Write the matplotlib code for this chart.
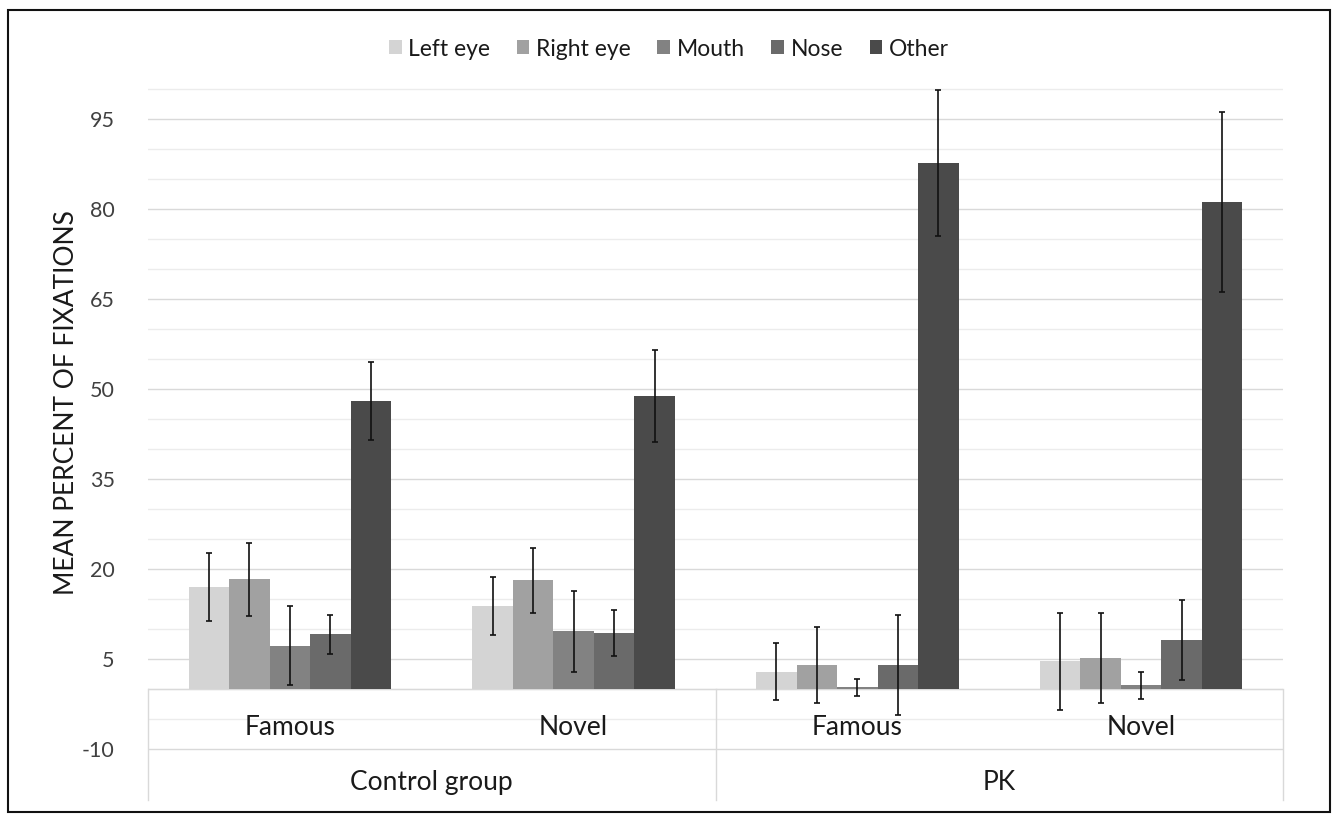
import matplotlib
matplotlib.use("Agg")
import matplotlib.pyplot as plt
from matplotlib.patches import Rectangle
import numpy as np

plt.rcParams['font.family'] = ['Lato', 'DejaVu Sans']
plt.rcParams['axes.unicode_minus'] = False

categories = ["Famous", "Novel", "Famous", "Novel"]
groups = ["Control group", "PK"]
series = ["Left eye", "Right eye", "Mouth", "Nose", "Other"]
colors = ["#d4d4d4", "#a1a1a1", "#828282", "#6a6a6a", "#4a4a4a"]

left_eye  = [17.0, 13.8, 2.9, 4.6]
right_eye = [18.3, 18.1, 4.0, 5.1]
mouth     = [7.2, 9.6, 0.3, 0.6]
nose      = [9.1, 9.3, 4.0, 8.2]
other     = [48.0, 48.9, 87.7, 81.2]

left_eye_err  = [5.7, 4.8, 4.8, 8.1]
right_eye_err = [6.1, 5.4, 6.3, 7.5]
mouth_err     = [6.6, 6.7, 1.4, 2.2]
nose_err      = [3.2, 3.8, 8.3, 6.7]
other_err     = [6.5, 7.7, 12.2, 15.0]

yticks = [-10, 5, 20, 35, 50, 65, 80, 95]

values = [left_eye, right_eye, mouth, nose, other]
errors = [left_eye_err, right_eye_err, mouth_err, nose_err, other_err]

W, H = 1333, 818
fig = plt.figure(figsize=(W / 100, H / 100), dpi=100)

ax_left, ax_right = 148 / W, 1283 / W
y_top_px, y_bot_px = 86.3, 800
ax = fig.add_axes([ax_left, (H - y_bot_px) / H, ax_right - ax_left, (y_bot_px - y_top_px) / H])

n = len(categories)
x = np.arange(n)
bw = 0.1427
for i, (vals, errs, c, name) in enumerate(zip(values, errors, colors, series)):
    pos = x + (i - 2) * bw
    ax.bar(pos, vals, width=bw, color=c, label=name, zorder=2, linewidth=0)
    ax.errorbar(pos, vals, yerr=errs, fmt='none', ecolor='#111111', elinewidth=1.2,
                capsize=2.2, capthick=1.2, zorder=3)

ax.set_xlim(-0.5, n - 0.5)
ax.set_ylim(-18.5, 100.5)
ax.set_yticks(yticks)
ax.set_yticks(np.arange(-10, 101, 5), minor=True)
ax.yaxis.grid(True, which='major', color='#d9d9d9', linewidth=1.0, zorder=0)
ax.yaxis.grid(True, which='minor', color='#ececec', linewidth=1.0, zorder=0)
ax.set_axisbelow(True)
ax.tick_params(axis='y', which='both', length=0, pad=24, labelsize=15.5, labelcolor='#404040')
ax.tick_params(axis='x', which='both', length=0, bottom=False, labelbottom=False)
for s in ax.spines.values():
    s.set_visible(False)

# category table below the zero line
ax.axhline(0, color='#d9d9d9', linewidth=1.0, zorder=1)
for xv in [-0.5, 1.5, n - 0.5]:
    ax.plot([xv, xv], [-18.5, 0], color='#d9d9d9', linewidth=1.0, zorder=1, clip_on=False)
for xi, lab in zip(x, categories):
    ax.text(xi, -6.4, lab, ha='center', va='center', fontsize=19, color='#1a1a1a')
for gi, g in enumerate(groups):
    ax.text(gi * 2 + 0.5, -15.5, g, ha='center', va='center', fontsize=19, color='#1a1a1a')

fig.text(67 / W, 1 - 403 / H, "MEAN PERCENT OF FIXATIONS", rotation=90, ha='center',
         va='center', fontsize=19, color='#1a1a1a')

leg = fig.legend(loc='center', bbox_to_anchor=(669 / W, 1 - 49 / H), ncol=5, frameon=False,
                 fontsize=16.5, handlelength=0.55, handleheight=0.55, handletextpad=0.3,
                 columnspacing=1.15, labelcolor='#1a1a1a')

fig.patches.append(Rectangle((8 / W, 1 - 812 / H), (1330 - 8) / W, (812 - 10) / H,
                             transform=fig.transFigure, fill=False, edgecolor='#111111',
                             linewidth=1.5))

fig.savefig("out.png", dpi=100, facecolor='white')
